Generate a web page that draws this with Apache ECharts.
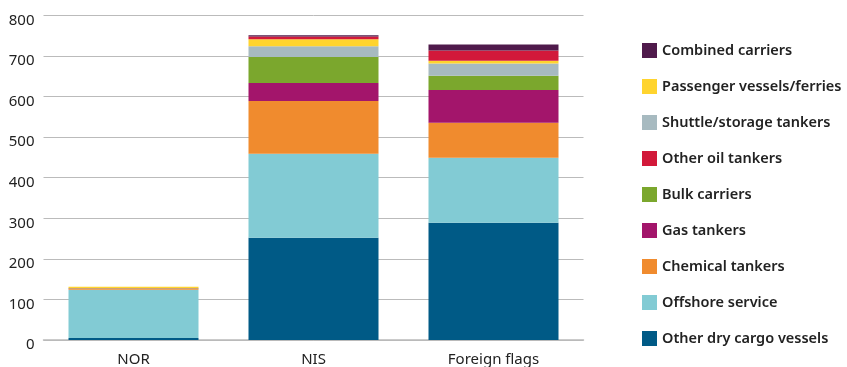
<!DOCTYPE html>
<html>
<head>
<meta charset="utf-8">
<script src="https://cdn.jsdelivr.net/npm/echarts@6/dist/echarts.min.js"></script>
<style>
  html, body { margin: 0; padding: 0; background: #fff; }
  #chart { width: 847px; height: 367px; }
</style>
</head>
<body>
<div id="chart"></div>
<script>
// Fleet by ship type and register
const categories = ['NOR', 'NIS', 'Foreign flags'];

const otherDryCargo   = [5, 252, 289];
const offshoreService = [119, 207, 160];
const chemicalTankers = [1.5, 130, 86];
const gasTankers      = [1.5, 44, 81];
const bulkCarriers    = [0.5, 64, 35];
const shuttleStorage  = [0, 27, 30];
const passengerFerries = [4, 17, 7];
const otherOilTankers = [0, 7, 25];
const combinedCarriers = [0, 3, 15];

const yTicks = [0, 100, 200, 300, 400, 500, 600, 700, 800];

// Stack order, bottom to top
const stackSeries = [
  { name: 'Other dry cargo vessels', data: otherDryCargo, color: '#005A86' },
  { name: 'Offshore service', data: offshoreService, color: '#82CBD4' },
  { name: 'Chemical tankers', data: chemicalTankers, color: '#F08B2E' },
  { name: 'Gas tankers', data: gasTankers, color: '#A3156B' },
  { name: 'Bulk carriers', data: bulkCarriers, color: '#7BA72D' },
  { name: 'Shuttle/storage tankers', data: shuttleStorage, color: '#A7BAC0' },
  { name: 'Passenger vessels/ferries', data: passengerFerries, color: '#FFD42E' },
  { name: 'Other oil tankers', data: otherOilTankers, color: '#D2193A' },
  { name: 'Combined carriers', data: combinedCarriers, color: '#4F1A4B' }
];

// Legend listing order, top to bottom
const legendOrder = [
  'Combined carriers',
  'Passenger vessels/ferries',
  'Shuttle/storage tankers',
  'Other oil tankers',
  'Bulk carriers',
  'Gas tankers',
  'Chemical tankers',
  'Offshore service',
  'Other dry cargo vessels'
];

const FONT = '"Noto Sans", sans-serif';

const chart = echarts.init(document.getElementById('chart'), null, { renderer: 'canvas' });

chart.setOption({
  animation: false,
  grid: { left: 43.5, top: 15.3, width: 540, height: 325.4, containLabel: false },
  legend: {
    orient: 'vertical',
    left: 637,
    top: 38,
    itemWidth: 15,
    itemHeight: 15,
    itemGap: 21,
    icon: 'rect',
    data: legendOrder,
    textStyle: { fontFamily: FONT, fontSize: 14.5, fontWeight: 600, color: '#222', padding: [0, 0, 0, 0] }
  },
  xAxis: {
    type: 'category',
    data: categories,
    axisTick: { show: false },
    axisLine: { show: true, lineStyle: { color: '#bbb', width: 1.5 } },
    axisLabel: { fontFamily: FONT, fontSize: 15, color: '#222', margin: 12 }
  },
  yAxis: {
    type: 'value',
    min: yTicks[0],
    max: yTicks[yTicks.length - 1],
    interval: 100,
    axisLine: { show: false },
    axisTick: { show: false },
    axisLabel: { fontFamily: FONT, fontSize: 15, color: '#222', margin: 9, verticalAlign: 'top', lineHeight: 10 },
    splitLine: { lineStyle: { color: '#bbb', width: 1 } }
  },
  series: stackSeries.map(s => ({
    name: s.name,
    type: 'bar',
    stack: 'fleet',
    barWidth: 130,
    data: s.data,
    itemStyle: { color: s.color },
    emphasis: { disabled: true }
  }))
});
</script>
</body>
</html>
